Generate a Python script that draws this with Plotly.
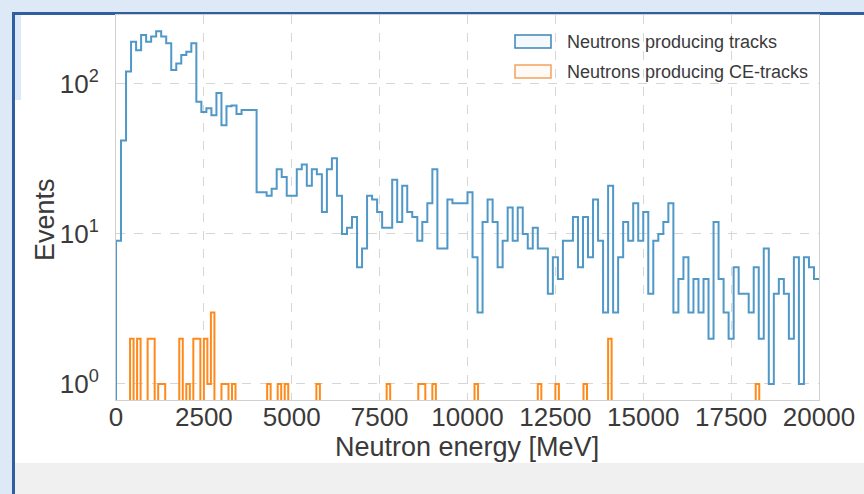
import numpy as np
import plotly.graph_objects as go

# ---------------- data ----------------
x_range_mev = [0, 20000]
n_track_bins = 140
track_counts = [
    9, 42, 121, 191, 168, 212, 191, 207, 225, 207, 187, 124, 137, 156, 164, 187,
    76, 65, 69, 62, 87, 53, 71, 72, 63, 67, 67, 67, 19, 19, 18, 20, 27, 24, 18, 18, 27,
    29, 21, 27, 25, 14, 27, 32, 18, 10, 11, 13,
    6, 8, 18, 17, 14, 11, 11, 23, 12, 21, 14, 13, 9, 12, 16, 27, 8, 8, 17, 16, 16,
    16, 19, 7, 3, 12, 17, 12, 6, 9, 15, 9, 15, 10, 8, 11, 8, 8, 4, 7, 5, 9, 9, 13,
    6, 13,
    7, 17, 9, 3, 21, 3, 7, 12, 9, 16, 9, 14, 4, 9, 10, 12, 16, 3, 5, 7, 3, 5, 3, 5,
    2, 12, 5, 3, 2, 6, 4, 4, 3, 6, 2, 8, 1, 4, 5, 4, 2, 7, 1, 7, 6, 5,
]

n_ce_bins = 200
ce_bin_left_mev = [400, 600, 900, 1000, 1200, 1300, 1800, 2000, 2200, 2300, 2500,
                   2600, 2700, 3000, 3100, 3300, 4300, 4600, 4800, 5700, 7700, 8600,
                   8700, 9000, 10200, 12000, 12500, 13300, 14000, 18200]
ce_counts = [2, 2, 2, 2, 1, 1, 2, 1, 2, 2, 2, 1, 3, 1, 1, 1, 1, 1, 1, 1, 1, 1,
             1, 1, 1, 1, 1, 1, 2, 1]

x_tick_vals = [0, 2500, 5000, 7500, 10000, 12500, 15000, 17500, 20000]
y_tick_vals = [1, 10, 100]
y_tick_text = ["10<sup>0</sup>", "10<sup>1</sup>", "10<sup>2</sup>"]

legend_labels = ["Neutrons producing tracks", "Neutrons producing CE-tracks"]
x_title = "Neutron energy [MeV]"
y_title = "Events"

# ---------------- helpers ----------------
FLOOR = 0.05  # zero counts drawn below the visible log range


def step_xy(edges, counts):
    c = [v if v > 0 else FLOOR for v in counts]
    xs = [edges[0]] + list(edges)
    ys = [FLOOR] + c + [c[-1]]
    return xs, ys


track_edges = np.linspace(x_range_mev[0], x_range_mev[1], n_track_bins + 1)
ce_edges = np.linspace(x_range_mev[0], x_range_mev[1], n_ce_bins + 1)
ce_full = np.zeros(n_ce_bins)
bw = (x_range_mev[1] - x_range_mev[0]) / n_ce_bins
for e, c in zip(ce_bin_left_mev, ce_counts):
    ce_full[int(round(e / bw))] = c

tx, ty = step_xy(track_edges, track_counts)
cx, cy = step_xy(ce_edges, list(ce_full))

BLUE = "#5098c8"
ORANGE = "#ff8a1c"
TXT = "#3a3a3a"
FONT = "Liberation Sans, Arial, sans-serif"

W, H = 864, 494
L, R, T, B = 116, 45, 15, 94
PW, PH = W - L - R, H - T - B


def px(xp):
    return (xp - L) / PW


def py(yp):
    return 1 - (yp - T) / PH


fig = go.Figure()
fig.add_trace(go.Scatter(x=tx, y=ty, mode="lines", line=dict(color=BLUE, width=2, shape="hv"),
                         showlegend=False, hoverinfo="skip"))
fig.add_trace(go.Scatter(x=cx, y=cy, mode="lines", line=dict(color=ORANGE, width=2, shape="hv"),
                         showlegend=False, hoverinfo="skip"))

shapes = []
# page decoration (slide frame)
LB = "#dde9f6"
DB = "#2f5f9f"
shapes += [
    dict(type="rect", xref="paper", yref="paper", x0=px(0), x1=px(W), y0=py(0), y1=py(12),
         fillcolor=LB, line_width=0, layer="below"),
    dict(type="rect", xref="paper", yref="paper", x0=px(0), x1=px(12), y0=py(0), y1=py(H),
         fillcolor=LB, line_width=0, layer="below"),
    dict(type="rect", xref="paper", yref="paper", x0=px(15), x1=px(21), y0=py(15), y1=py(100),
         fillcolor=LB, line_width=0, layer="below"),
    dict(type="rect", xref="paper", yref="paper", x0=px(15), x1=px(W), y0=py(463), y1=py(H),
         fillcolor="#f0f0f0", line_width=0, layer="below"),
    dict(type="rect", xref="paper", yref="paper", x0=px(12), x1=px(W), y0=py(12), y1=py(15),
         fillcolor=DB, line_width=0, layer="below"),
    dict(type="rect", xref="paper", yref="paper", x0=px(12), x1=px(15), y0=py(12), y1=py(H),
         fillcolor=DB, line_width=0, layer="below"),
]
# legend patches
for i, (col, fill) in enumerate([("#3d84b6", "#f4f9fd"), ("#f4a35c", "#fffaf5")]):
    y0 = 35 + 30 * i
    shapes.append(dict(type="rect", xref="paper", yref="paper", x0=px(515), x1=px(551),
                       y0=py(y0), y1=py(y0 + 13), fillcolor=fill,
                       line=dict(color=col, width=1.5), layer="above"))
annotations = []
for i, lab in enumerate(legend_labels):
    annotations.append(dict(text=lab, xref="paper", yref="paper", x=px(565), y=py(42 + 30 * i),
                            xanchor="left", yanchor="middle", showarrow=False,
                            font=dict(family=FONT, size=18, color=TXT)))
# axis titles
annotations.append(dict(text=x_title, xref="paper", yref="paper", x=px(467), y=py(447),
                        xanchor="center", yanchor="middle", showarrow=False,
                        font=dict(family=FONT, size=27, color=TXT)))
annotations.append(dict(text=y_title, xref="paper", yref="paper", x=px(45), y=py(220),
                        xanchor="center", yanchor="middle", showarrow=False, textangle=-90,
                        font=dict(family=FONT, size=27, color=TXT)))

fig.update_layout(
    width=W, height=H,
    margin=dict(l=L, r=R, t=T, b=B, pad=0),
    paper_bgcolor="white", plot_bgcolor="white",
    font=dict(family=FONT, color=TXT),
    shapes=shapes, annotations=annotations,
    showlegend=False,
)
fig.update_xaxes(
    range=x_range_mev, tickvals=x_tick_vals, ticktext=[str(v) for v in x_tick_vals],
    tickfont=dict(size=26, color=TXT), showgrid=True, gridcolor="#d6d6d6", griddash="dash",
    gridwidth=1, zeroline=False, showline=True, mirror=True, linecolor="#d0d0d0", linewidth=1,
    ticks="", ticklabelstandoff=-6, tickangle=0, automargin=False,
)
fig.update_yaxes(
    type="log", range=[-0.107, 2.46], tickvals=y_tick_vals, ticktext=y_tick_text,
    tickfont=dict(size=26, color=TXT), showgrid=True, gridcolor="#d6d6d6", griddash="dash",
    gridwidth=1, zeroline=False, showline=True, mirror=True, linecolor="#d0d0d0", linewidth=1,
    ticks="", ticklabelstandoff=11, automargin=False,
)

fig.write_html("out.html")
